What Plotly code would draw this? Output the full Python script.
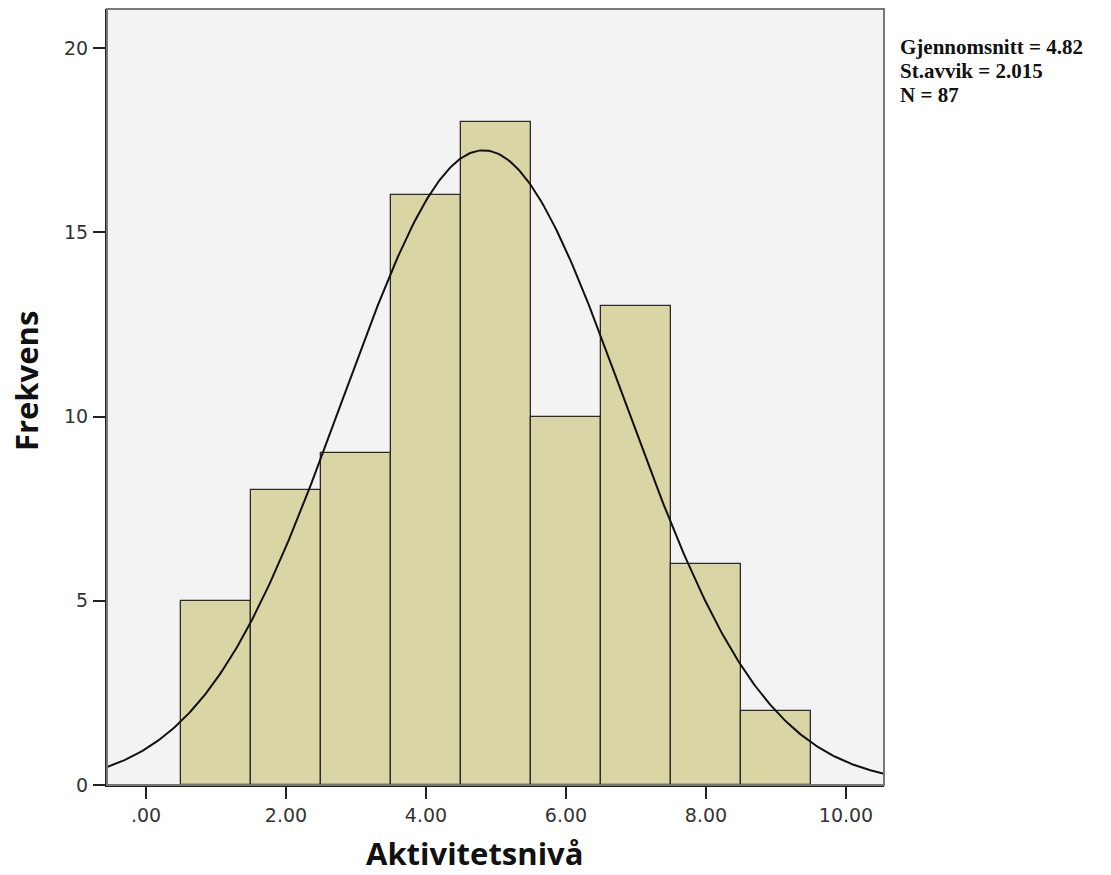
import numpy as np
import plotly.graph_objects as go

# Data
bin_centers = [1, 2, 3, 4, 5, 6, 7, 8, 9]
counts = [5, 8, 9, 16, 18, 10, 13, 6, 2]
bin_width = 1.0
MEAN = 4.82
SD = 2.015
N = 87
x_tickvals = [0, 2, 4, 6, 8, 10]
x_ticktext = [".00", "2.00", "4.00", "6.00", "8.00", "10.00"]
y_tickvals = [0, 5, 10, 15, 20]
y_ticktext = ["0", "5", "10", "15", "20"]
stats_lines = ["Gjennomsnitt = 4.82", "St.avvik = 2.015", "N = 87"]

X_RANGE = [-0.557, 10.543]
Y_RANGE = [0, 21.06]

# Fitted normal curve (scaled to counts), as SPSS draws it
xc = np.linspace(X_RANGE[0], X_RANGE[1], 400)
yc = N * bin_width / (SD * np.sqrt(2 * np.pi)) * np.exp(-0.5 * ((xc - MEAN) / SD) ** 2)

fig = go.Figure()
fig.add_trace(go.Bar(
    x=bin_centers, y=counts, width=bin_width,
    marker=dict(color="#DAD5A5", line=dict(color="#2b2b2b", width=1.3)),
    hoverinfo="x+y", showlegend=False,
))
fig.add_trace(go.Scatter(
    x=xc, y=yc, mode="lines",
    line=dict(color="#111111", width=2),
    hoverinfo="skip", showlegend=False,
))

axis_common = dict(
    showgrid=False, zeroline=False,
    ticks="outside", ticklen=12, tickwidth=2, tickcolor="#222222",
    showline=True, linecolor="#222222", linewidth=2,
    tickfont=dict(family="DejaVu Sans", size=19, color="#333333"),
)
fig.update_xaxes(range=X_RANGE, tickvals=x_tickvals, ticktext=x_ticktext, **axis_common)
fig.update_yaxes(range=Y_RANGE, tickvals=y_tickvals, ticktext=y_ticktext, ticklabelstandoff=1, **axis_common)

fig.add_shape(type="rect", xref="paper", yref="paper", x0=0, y0=0, x1=1, y1=1,
              line=dict(color="#777777", width=2), layer="above")

ann = [
    dict(text="Aktivitetsnivå", x=0.4736, y=-0.0876, xref="paper", yref="paper",
         showarrow=False, xanchor="center", yanchor="middle",
         font=dict(family="Open Sans", size=31, color="#111111", weight="bold")),
    dict(text="Frekvens", x=-0.1042, y=0.5206, xref="paper", yref="paper",
         showarrow=False, xanchor="center", yanchor="middle", textangle=-90,
         font=dict(family="Open Sans", size=31, color="#111111", weight="bold")),
]
for i, s in enumerate(stats_lines):
    ann.append(dict(text=s, x=1.0175, y=0.9515 - i * 0.0312, xref="paper", yref="paper",
                    showarrow=False, xanchor="left", yanchor="middle",
                    font=dict(family="Liberation Serif", size=21, color="#111111", weight="bold")))

fig.update_layout(
    width=1111, height=875,
    margin=dict(l=107, r=227, t=9, b=90),
    paper_bgcolor="white", plot_bgcolor="#F3F3F3",
    bargap=0, annotations=ann,
)
fig.write_html("out.html")
